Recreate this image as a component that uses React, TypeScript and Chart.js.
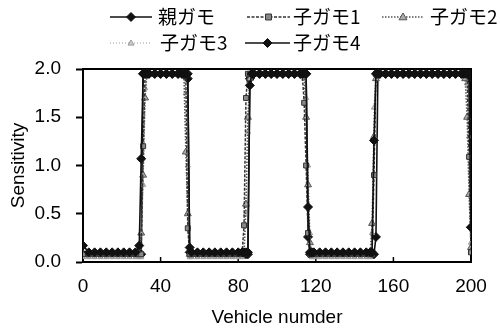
import React, { useEffect, useRef } from 'react';
import { Chart, registerables } from 'chart.js';
Chart.register(...registerables);

const seriesNames = ['親ガモ', '子ガモ1', '子ガモ2', '子ガモ3', '子ガモ4'];
const xTicks = [0, 40, 80, 120, 160, 200];
const yTicks = [0, 0.5, 1.0, 1.5, 2.0];

const vehicles = [
  0, 3, 6, 9, 12, 15, 18, 21, 24, 27,
  29, 30, 31, 32, 33,
  34, 37, 40, 43, 46, 49,
  51, 52, 53, 54, 55,
  56, 59, 62, 65, 68, 71, 74, 77, 80,
  82, 83, 84, 85, 86, 87,
  88, 91, 94, 97, 100, 103, 106, 109, 112,
  113, 114, 115, 116, 117, 118,
  119, 122, 125, 128, 131, 134, 137, 140, 143, 146,
  148, 149, 150, 151, 152,
  153, 156, 159, 162, 165, 168, 171, 174, 177, 180, 183, 186, 189, 192, 195,
  196, 197, 198, 199, 200,
];

const parent = [
  0.17, 0.1, 0.1, 0.1, 0.1, 0.1, 0.1, 0.1, 0.1, 0.1,
  0.17, 1.07, 1.95, 1.95, 1.95,
  1.95, 1.95, 1.95, 1.95, 1.95, 1.95,
  1.95, 1.95, 1.95, 1.95, 0.15,
  0.1, 0.1, 0.1, 0.1, 0.1, 0.1, 0.1, 0.1, 0.1,
  0.1, 0.1, 0.1, 0.1, 1.83, 1.95,
  1.95, 1.95, 1.95, 1.95, 1.95, 1.95, 1.95, 1.95, 1.95,
  1.95, 1.95, 1.95, 0.57, 0.1, 0.1,
  0.1, 0.1, 0.1, 0.1, 0.1, 0.1, 0.1, 0.1, 0.1, 0.1,
  0.1, 0.1, 1.26, 1.95, 1.95,
  1.95, 1.95, 1.95, 1.95, 1.95, 1.95, 1.95, 1.95, 1.95, 1.95, 1.95, 1.95, 1.95, 1.95, 1.95,
  1.95, 1.95, 1.95, 1.95, 0.36,
];

const child1 = [
  0.08, 0.08, 0.08, 0.08, 0.08, 0.08, 0.08, 0.08, 0.08, 0.08,
  0.08, 0.08, 1.2, 1.95, 1.95,
  1.95, 1.95, 1.95, 1.95, 1.95, 1.95,
  1.95, 1.95, 1.95, 0.35, 0.08,
  0.08, 0.08, 0.08, 0.08, 0.08, 0.08, 0.08, 0.08, 0.08,
  0.08, 0.38, 1.7, 1.95, 1.95, 1.95,
  1.95, 1.95, 1.95, 1.95, 1.95, 1.95, 1.95, 1.95, 1.95,
  1.95, 1.65, 1.0, 0.3, 0.08, 0.08,
  0.08, 0.08, 0.08, 0.08, 0.08, 0.08, 0.08, 0.08, 0.08, 0.08,
  0.08, 0.08, 0.9, 1.95, 1.95,
  1.95, 1.95, 1.95, 1.95, 1.95, 1.95, 1.95, 1.95, 1.95, 1.95, 1.95, 1.95, 1.95, 1.95, 1.95,
  1.95, 1.95, 1.95, 1.09, 0.1,
];

const child2 = [
  0.08, 0.08, 0.08, 0.08, 0.08, 0.08, 0.08, 0.08, 0.08, 0.08,
  0.08, 0.3, 0.9, 1.7, 1.95,
  1.95, 1.95, 1.95, 1.95, 1.95, 1.95,
  1.95, 1.95, 1.14, 0.5, 0.08,
  0.08, 0.08, 0.08, 0.08, 0.08, 0.08, 0.08, 0.08, 0.08,
  0.08, 0.08, 0.6, 1.5, 1.9, 1.95,
  1.95, 1.95, 1.95, 1.95, 1.95, 1.95, 1.95, 1.95, 1.95,
  1.95, 1.95, 1.5, 0.8, 0.2, 0.08,
  0.08, 0.08, 0.08, 0.08, 0.08, 0.08, 0.08, 0.08, 0.08, 0.08,
  0.08, 0.4, 1.3, 1.9, 1.95,
  1.95, 1.95, 1.95, 1.95, 1.95, 1.95, 1.95, 1.95, 1.95, 1.95, 1.95, 1.95, 1.95, 1.95, 1.95,
  1.95, 1.9, 1.5, 0.7, 0.15,
];

const child3 = [
  0.05, 0.05, 0.05, 0.05, 0.05, 0.05, 0.05, 0.05, 0.05, 0.05,
  0.05, 0.05, 0.8, 1.8, 1.95,
  1.95, 1.95, 1.95, 1.95, 1.95, 1.95,
  1.95, 1.95, 1.75, 1.0, 0.05,
  0.05, 0.05, 0.05, 0.05, 0.05, 0.05, 0.05, 0.05, 0.05,
  0.05, 0.1, 0.5, 1.35, 1.95, 1.95,
  1.95, 1.95, 1.95, 1.95, 1.95, 1.95, 1.95, 1.95, 1.95,
  1.95, 1.9, 1.7, 1.0, 0.3, 0.05,
  0.05, 0.05, 0.05, 0.05, 0.05, 0.05, 0.05, 0.05, 0.05, 0.05,
  0.05, 0.3, 1.6, 1.95, 1.95,
  1.95, 1.95, 1.95, 1.95, 1.95, 1.95, 1.95, 1.95, 1.95, 1.95, 1.95, 1.95, 1.95, 1.95, 1.95,
  1.95, 1.95, 1.85, 1.3, 0.2,
];

const child4 = [
  0.08, 0.08, 0.08, 0.08, 0.08, 0.08, 0.08, 0.08, 0.08, 0.08,
  0.08, 0.08, 1.95, 1.95, 1.95,
  1.95, 1.95, 1.95, 1.95, 1.95, 1.95,
  1.95, 1.95, 1.95, 1.9, 0.1,
  0.08, 0.08, 0.08, 0.08, 0.08, 0.08, 0.08, 0.08, 0.08,
  0.08, 0.08, 0.08, 0.08, 1.9, 1.95,
  1.95, 1.95, 1.95, 1.95, 1.95, 1.95, 1.95, 1.95, 1.95,
  1.95, 1.95, 1.95, 0.26, 0.08, 0.08,
  0.08, 0.08, 0.08, 0.08, 0.08, 0.08, 0.08, 0.08, 0.08, 0.08,
  0.08, 0.08, 0.08, 0.26, 1.95,
  1.95, 1.95, 1.95, 1.95, 1.95, 1.95, 1.95, 1.95, 1.95, 1.95, 1.95, 1.95, 1.95, 1.95, 1.95,
  1.95, 1.95, 1.95, 1.9, 0.36,
];

const seriesValues = [parent, child1, child2, child3, child4];

const styles = [
  { line: '#111', width: 1.6, dash: [] as number[], point: 'rectRot', r: 4.5, fill: '#111', stroke: '#111' },
  { line: '#333', width: 1.5, dash: [3, 1.5], point: 'rect', r: 3.5, fill: '#888', stroke: '#333' },
  { line: '#555', width: 1.5, dash: [1.5, 1.5], point: 'triangle', r: 4, fill: '#aaa', stroke: '#555' },
  { line: '#999', width: 1.2, dash: [1, 2], point: 'triangle', r: 3, fill: '#ccc', stroke: '#999' },
  { line: '#111', width: 1.6, dash: [] as number[], point: 'rectRot', r: 4.5, fill: '#111', stroke: '#111' },
];

const FONT = '"Liberation Sans", Arial, sans-serif';
const CJK = '"Noto Sans CJK JP", "Liberation Sans", sans-serif';

function drawMarker(ctx: CanvasRenderingContext2D, style: string, x: number, y: number, r: number, fill: string, stroke: string) {
  ctx.save();
  ctx.fillStyle = fill;
  ctx.strokeStyle = stroke;
  ctx.lineWidth = 1;
  ctx.setLineDash([]);
  ctx.beginPath();
  if (style === 'rectRot') {
    ctx.moveTo(x, y - r); ctx.lineTo(x + r, y); ctx.lineTo(x, y + r); ctx.lineTo(x - r, y); ctx.closePath();
  } else if (style === 'rect') {
    const s = r * 0.85;
    ctx.rect(x - s, y - s, 2 * s, 2 * s);
  } else {
    ctx.moveTo(x, y - r); ctx.lineTo(x + r, y + r * 0.7); ctx.lineTo(x - r, y + r * 0.7); ctx.closePath();
  }
  ctx.fill();
  ctx.stroke();
  ctx.restore();
}

const legendLayout = [
  { x1: 110, x2: 152, tx: 158, y: 17 },
  { x1: 247, x2: 290, tx: 293, y: 17 },
  { x1: 382, x2: 424, tx: 430, y: 17 },
  { x1: 110, x2: 152, tx: 160, y: 43 },
  { x1: 245, x2: 290, tx: 293, y: 43 },
];

const legendPlugin = {
  id: 'customLegend',
  afterDraw(chart: any) {
    const ctx: CanvasRenderingContext2D = chart.ctx;
    ctx.save();
    seriesNames.forEach((name, i) => {
      const L = legendLayout[i];
      const s = styles[i];
      ctx.strokeStyle = s.line;
      ctx.lineWidth = s.width;
      ctx.setLineDash(s.dash);
      ctx.beginPath();
      ctx.moveTo(L.x1, L.y);
      ctx.lineTo(L.x2, L.y);
      ctx.stroke();
      drawMarker(ctx, s.point, (L.x1 + L.x2) / 2, L.y, s.r, s.fill, s.stroke);
      ctx.setLineDash([]);
      ctx.fillStyle = '#000';
      ctx.font = `19px ${CJK}`;
      ctx.textBaseline = 'middle';
      ctx.textAlign = 'left';
      ctx.fillText(name, L.tx, L.y);
    });
    ctx.restore();
  },
};

const framePlugin = {
  id: 'frame',
  beforeDatasetsDraw(chart: any) {
    const { ctx, chartArea } = chart;
    const xs = chart.scales.x;
    ctx.save();
    ctx.strokeStyle = '#000';
    ctx.lineWidth = 2;
    ctx.beginPath();
    ctx.moveTo(chartArea.left, chartArea.top);
    ctx.lineTo(chartArea.right, chartArea.top);
    ctx.lineTo(chartArea.right, chartArea.bottom);
    ctx.stroke();
    ctx.lineWidth = 1.5;
    xTicks.forEach((v) => {
      const px = xs.getPixelForValue(v);
      ctx.beginPath();
      ctx.moveTo(px, chartArea.bottom);
      ctx.lineTo(px, chartArea.bottom - 5);
      ctx.stroke();
    });
    ctx.restore();
  },
};

export default function App() {
  const ref = useRef<HTMLCanvasElement>(null);
  useEffect(() => {
    if (!ref.current) return;
    const datasets = seriesNames.map((name, i) => {
      const s = styles[i];
      return {
        label: name,
        data: vehicles.map((v, j) => ({ x: v, y: seriesValues[i][j] })),
        showLine: true,
        borderColor: s.line,
        borderWidth: s.width,
        borderDash: s.dash,
        pointStyle: s.point,
        pointRadius: s.r,
        pointBackgroundColor: s.fill,
        pointBorderColor: s.stroke,
        pointBorderWidth: 1,
        tension: 0,
      };
    });
    const chart = new Chart(ref.current, {
      type: 'scatter',
      data: { datasets } as any,
      plugins: [framePlugin, legendPlugin],
      options: {
        responsive: false,
        animation: false,
        layout: { padding: { left: 0, top: 69, right: 29, bottom: 0 } },
        plugins: { legend: { display: false }, tooltip: { enabled: false } },
        scales: {
          x: {
            type: 'linear',
            min: 0,
            max: 200,
            afterBuildTicks: (scale: any) => { scale.ticks = xTicks.map((v) => ({ value: v })); },
            afterFit: (scale: any) => { scale.height = 69; },
            ticks: { color: '#000', font: { family: FONT, size: 19 }, padding: 13, maxRotation: 0 },
            grid: { display: true, drawOnChartArea: false, drawTicks: false },
            border: { display: true, color: '#000', width: 2 },
            title: { display: true, text: 'Vehicle numder', color: '#000', font: { family: FONT, size: 19 }, padding: { top: 0, bottom: 2 } },
          },
          y: {
            type: 'linear',
            min: 0,
            max: 2,
            afterBuildTicks: (scale: any) => { scale.ticks = yTicks.map((v) => ({ value: v })); },
            afterFit: (scale: any) => { scale.width = 83; },
            ticks: { color: '#000', font: { family: FONT, size: 19 }, padding: 15, callback: (v: any) => Number(v).toFixed(1) },
            grid: { display: true, drawOnChartArea: false, drawTicks: true, tickLength: 7, tickColor: '#000', tickWidth: 2 },
            border: { display: true, color: '#000', width: 2 },
            title: { display: true, text: 'Sensitivity', color: '#000', font: { family: FONT, size: 19 }, padding: { top: 7, bottom: 0 } },
          },
        },
      } as any,
    });
    return () => chart.destroy();
  }, []);
  return (
    <div style={{ position: 'fixed', left: 0, top: 0, width: 500, height: 331, background: '#fff' }}>
      <canvas ref={ref} width={500} height={331} style={{ width: 500, height: 331 }} />
    </div>
  );
}
